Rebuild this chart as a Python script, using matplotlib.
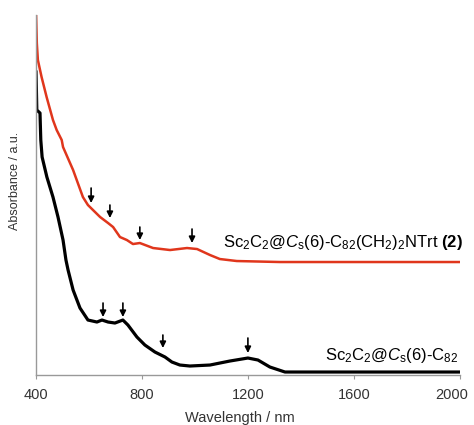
import matplotlib.pyplot as plt
import matplotlib.transforms as mtransforms

plt.rcParams['font.family'] = ['Liberation Sans', 'DejaVu Sans']
plt.rcParams['mathtext.fontset'] = 'custom'
plt.rcParams['mathtext.rm'] = 'Liberation Sans'
plt.rcParams['mathtext.it'] = 'Liberation Sans:italic'
plt.rcParams['mathtext.bf'] = 'Liberation Sans:bold'

# --- spectra (wavelength nm, absorbance a.u.) ---
wl_red = [400, 403, 407, 421, 440, 464, 478, 497, 502, 540, 577, 596, 642, 672,
          691, 717, 743, 766, 792, 842, 906, 970, 1008, 1057, 1094, 1158, 1321,
          1500, 1700, 1850, 2000]
abs_red = [3.62, 3.32, 3.15, 2.98, 2.78, 2.55, 2.45, 2.35, 2.28, 2.05, 1.78, 1.70,
           1.58, 1.52, 1.48, 1.38, 1.35, 1.31, 1.32, 1.27, 1.25, 1.27, 1.26, 1.20,
           1.16, 1.14, 1.13, 1.13, 1.13, 1.13, 1.13]

wl_blk = [400, 403, 415, 418, 423, 441, 464, 483, 502, 513, 521, 540, 566, 596,
          630, 649, 672, 698, 728, 747, 781, 811, 849, 887, 913, 943, 981, 1057,
          1132, 1200, 1238, 1283, 1340, 1500, 1700, 1850, 2000]
abs_blk = [3.03, 2.65, 2.62, 2.35, 2.18, 1.98, 1.78, 1.58, 1.35, 1.15, 1.05, 0.85,
           0.67, 0.55, 0.53, 0.55, 0.53, 0.52, 0.55, 0.50, 0.38, 0.30, 0.23, 0.18,
           0.13, 0.10, 0.09, 0.10, 0.14, 0.17, 0.15, 0.08, 0.03, 0.03, 0.03, 0.03,
           0.03]

# arrow markers: wavelength, tail, head
arr_red = [(608, 1.87, 1.72), (679, 1.70, 1.57), (792, 1.48, 1.35), (989, 1.46, 1.32)]
arr_blk = [(653, 0.72, 0.58), (728, 0.72, 0.58), (879, 0.40, 0.27), (1200, 0.37, 0.22)]

xticks = [400, 800, 1200, 1600, 2000]

fig = plt.figure(figsize=(4.74, 4.25), dpi=100)
ax = fig.add_axes([0.076, 0.1176, 0.894, 0.847])

ax.plot(wl_red, abs_red, color='#e0361c', lw=1.8, solid_joinstyle='round')
ax.plot(wl_blk, abs_blk, color='black', lw=2.3, solid_joinstyle='round')

for x, y0, y1 in arr_red + arr_blk:
    ax.annotate('', xy=(x, y1), xytext=(x, y0),
                arrowprops=dict(arrowstyle='-|>', color='black', lw=1.2,
                                mutation_scale=9, shrinkA=0, shrinkB=0))

ax.text(1106, 1.33, r'Sc$_2$C$_2$@$\mathit{C}_\mathrm{s}$(6)-C$_{82}$(CH$_2$)$_2$NTrt $\mathbf{(2)}$',
        fontsize=12, ha='left', va='center')
ax.text(1995, 0.20, r'Sc$_2$C$_2$@$\mathit{C}_\mathrm{s}$(6)-C$_{82}$',
        fontsize=12, ha='right', va='center')

ax.set_xlim(400, 2000)
ax.set_ylim(0, 3.6)
ax.set_xticks(xticks)
ax.set_yticks([])
ax.tick_params(axis='x', direction='out', length=3, color='#999999',
               labelsize=10.5, labelcolor='#333333', pad=6)
# last tick label sits a little to the left, as in the original
last = ax.get_xticklabels()[-1]
last.set_transform(last.get_transform() +
                   mtransforms.ScaledTranslation(-6 / 72, 0, fig.dpi_scale_trans))
for s in ['top', 'right']:
    ax.spines[s].set_visible(False)
for s in ['left', 'bottom']:
    ax.spines[s].set_color('#999999')
    ax.spines[s].set_linewidth(1.0)

ax.set_xlabel('Wavelength / nm', fontsize=10.5, color='#333333')
ax.xaxis.set_label_coords(0.48, -0.10)
ax.set_ylabel('Absorbance / a.u.', fontsize=9, color='#333333')
ax.yaxis.set_label_coords(-0.035, 0.54)

fig.savefig('out.png', dpi=100)
